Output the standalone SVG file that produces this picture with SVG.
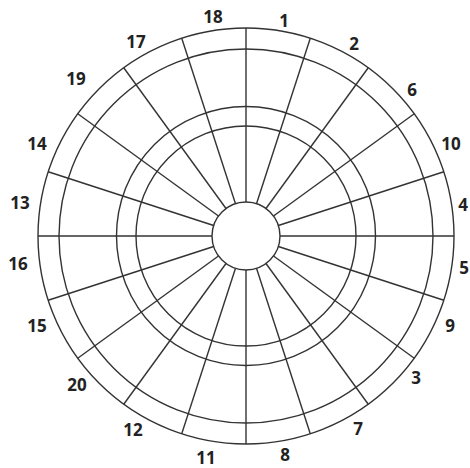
<svg xmlns="http://www.w3.org/2000/svg" xmlns:xlink="http://www.w3.org/1999/xlink" width="470" height="468" viewBox="0 0 470 468">
<style>
.ring{fill:none;stroke:#333;stroke-width:1.4}
.sp{stroke:#333;stroke-width:1.4}
.num{font-family:"Open Sans","Liberation Sans",sans-serif;font-weight:bold;font-size:17px;fill:#222;text-anchor:middle;dominant-baseline:central}
</style>
<defs>
<line id="spoke" class="sp" x1="246" y1="202" x2="246" y2="28"/>
</defs>
<rect width="470" height="468" fill="#fff"/>
<g id="rings">
<circle class="ring" cx="246" cy="236" r="208"/>
<circle class="ring" cx="246" cy="236" r="187"/>
<circle class="ring" cx="246" cy="236" r="129.5"/>
<circle class="ring" cx="246" cy="236" r="110"/>
<circle class="ring" cx="246" cy="236" r="34" fill="#fff"/>
</g>
<g id="spokes">
<use xlink:href="#spoke" transform="rotate(0 246 236)"/>
<use xlink:href="#spoke" transform="rotate(18 246 236)"/>
<use xlink:href="#spoke" transform="rotate(36 246 236)"/>
<use xlink:href="#spoke" transform="rotate(54 246 236)"/>
<use xlink:href="#spoke" transform="rotate(72 246 236)"/>
<use xlink:href="#spoke" transform="rotate(90 246 236)"/>
<use xlink:href="#spoke" transform="rotate(108 246 236)"/>
<use xlink:href="#spoke" transform="rotate(126 246 236)"/>
<use xlink:href="#spoke" transform="rotate(144 246 236)"/>
<use xlink:href="#spoke" transform="rotate(162 246 236)"/>
<use xlink:href="#spoke" transform="rotate(180 246 236)"/>
<use xlink:href="#spoke" transform="rotate(198 246 236)"/>
<use xlink:href="#spoke" transform="rotate(216 246 236)"/>
<use xlink:href="#spoke" transform="rotate(234 246 236)"/>
<use xlink:href="#spoke" transform="rotate(252 246 236)"/>
<use xlink:href="#spoke" transform="rotate(270 246 236)"/>
<use xlink:href="#spoke" transform="rotate(288 246 236)"/>
<use xlink:href="#spoke" transform="rotate(306 246 236)"/>
<use xlink:href="#spoke" transform="rotate(324 246 236)"/>
<use xlink:href="#spoke" transform="rotate(342 246 236)"/>
</g>
<g id="labels">
<text class="num" x="284" y="20">1</text>
<text class="num" x="354" y="43">2</text>
<text class="num" x="412" y="89">6</text>
<text class="num" x="451" y="143">10</text>
<text class="num" x="463" y="204">4</text>
<text class="num" x="464" y="267">5</text>
<text class="num" x="450" y="325">9</text>
<text class="num" x="416" y="377">3</text>
<text class="num" x="358" y="428">7</text>
<text class="num" x="285" y="454">8</text>
<text class="num" x="206" y="457">11</text>
<text class="num" x="133" y="429">12</text>
<text class="num" x="77" y="384">20</text>
<text class="num" x="37" y="325">15</text>
<text class="num" x="18" y="263">16</text>
<text class="num" x="20" y="202">13</text>
<text class="num" x="37" y="143">14</text>
<text class="num" x="76" y="78">19</text>
<text class="num" x="136" y="41">17</text>
<text class="num" x="213" y="16">18</text>
</g>
</svg>
